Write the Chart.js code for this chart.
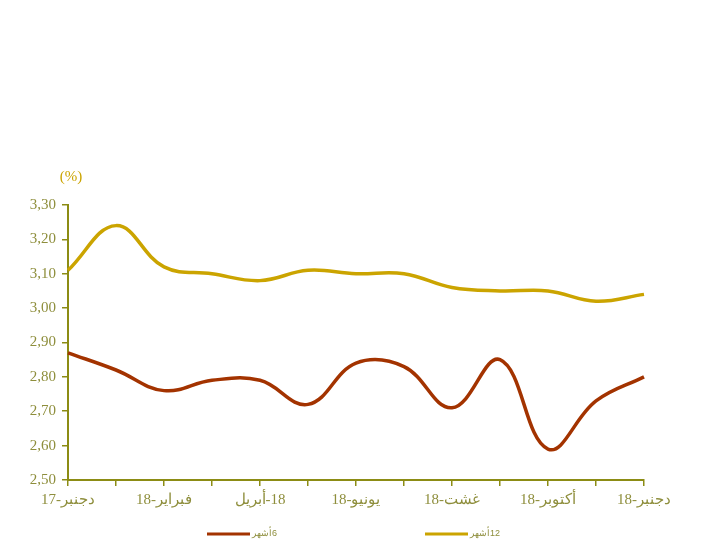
<!DOCTYPE html>
<html>
<head>
<meta charset="utf-8">
<script src="https://cdn.jsdelivr.net/npm/chart.js@4.4.1/dist/chart.umd.min.js"></script>
<style>
html,body{margin:0;padding:0;background:#fff;}
#wrap{width:704px;height:544px;position:relative;}
</style>
</head>
<body>
<div id="wrap"><canvas id="c" width="704" height="544"></canvas></div>
<script>
// ---- data ----
const categories = ["دجنبر-17","يناير-18","فبراير-18","مارس-18","أبريل-18","ماي-18","يونيو-18","يوليوز-18","غشت-18","شتنبر-18","أكتوبر-18","نونبر-18","دجنبر-18"];
const tickLabels = ["دجنبر-17","","فبراير-18","","أبريل\u200E-18","","يونيو-18","","غشت-18","","أكتوبر-18","","دجنبر-18"];
const series6m  = [2.87,2.82,2.76,2.79,2.79,2.72,2.84,2.83,2.71,2.85,2.59,2.73,2.80];
const series12m = [3.11,3.24,3.12,3.10,3.08,3.11,3.10,3.10,3.06,3.05,3.05,3.02,3.04];
const seriesNames = ["أشهر\u200E6","أشهر\u200E12"];
const yMin = 2.5, yMax = 3.3, yStep = 0.1;
const unitLabel = "(%)";

const axisColor = '#8c8c14';
const tickColor = '#8e8e3c';
const redColor = '#a33300';
const goldColor = '#cba400';

const legendPlugin = {
  id: 'customLegend',
  afterDraw(chart) {
    const ctx = chart.ctx;
    ctx.save();
    const items = chart.data.datasets;
    const starts = [207, 425];
    const y = 534;
    items.forEach((ds, i) => {
      const x = starts[i];
      ctx.strokeStyle = ds.borderColor;
      ctx.lineWidth = 3;
      ctx.beginPath();
      ctx.moveTo(x, y);
      ctx.lineTo(x + 43, y);
      ctx.stroke();
      ctx.fillStyle = tickColor;
      ctx.font = '9px "Liberation Sans"';
      ctx.textAlign = 'left';
      ctx.textBaseline = 'middle';
      ctx.fillText(ds.label, x + 45, y);
    });
    // unit label
    ctx.fillStyle = goldColor;
    ctx.font = '15px "Liberation Serif"';
    ctx.textAlign = 'center';
    ctx.textBaseline = 'middle';
    ctx.fillText(unitLabel, 71, 177);
    ctx.restore();
  }
};

new Chart(document.getElementById('c'), {
  type: 'line',
  data: {
    labels: categories,
    datasets: [
      { label: seriesNames[0], data: series6m, borderColor: redColor, backgroundColor: redColor, borderWidth: 3.5, pointRadius: 0, tension: 0.4, fill: false },
      { label: seriesNames[1], data: series12m, borderColor: goldColor, backgroundColor: goldColor, borderWidth: 3.5, pointRadius: 0, tension: 0.4, fill: false }
    ]
  },
  options: {
    responsive: false,
    animation: false,
    layout: { padding: { top: 205, left: 0, right: 60, bottom: 24 } },
    plugins: { legend: { display: false }, tooltip: { enabled: false }, title: { display: false } },
    scales: {
      x: {
        type: 'category',
        offset: false,
        afterFit(scale) { scale.height = 40; },
        grid: { drawOnChartArea: false, drawTicks: true, tickLength: 6, color: axisColor, lineWidth: 1.5 },
        border: { display: true, color: axisColor, width: 2 },
        ticks: {
          autoSkip: false, maxRotation: 0, minRotation: 0, padding: 5,
          color: tickColor, font: { family: 'Liberation Serif', size: 15 },
          callback: (v, i) => tickLabels[i]
        }
      },
      y: {
        min: yMin, max: yMax,
        afterFit(scale) { scale.width = 68; },
        grid: { drawOnChartArea: false, drawTicks: true, tickLength: 6, color: axisColor, lineWidth: 1.5 },
        border: { display: true, color: axisColor, width: 2 },
        ticks: {
          stepSize: yStep, padding: 6,
          color: tickColor, font: { family: 'Liberation Serif', size: 15 },
          callback: v => v.toFixed(2).replace('.', ',')
        }
      }
    }
  },
  plugins: [legendPlugin]
});
</script>
</body>
</html>
